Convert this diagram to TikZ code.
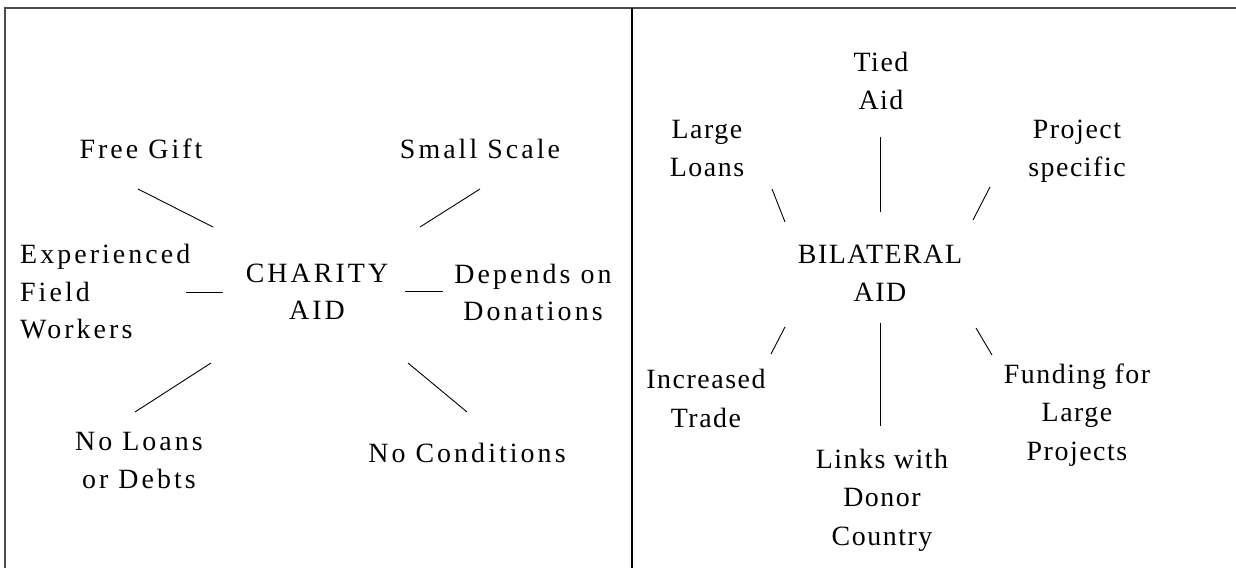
\documentclass[tikz,border=0pt]{standalone}
\usepackage{fontspec}
\setmainfont{Liberation Serif}
\newfontfamily\lfont[LetterSpace=11]{Liberation Serif}
\newfontfamily\rfont[LetterSpace=5.5]{Liberation Serif}
\begin{document}
\begin{tikzpicture}[x=1bp,y=-1bp,
  ltxt/.style={anchor=base,align=center,inner sep=0pt,font={\lfont\fontsize{28}{38}\selectfont}},
  rtxt/.style={anchor=base,align=center,inner sep=0pt,font={\rfont\fontsize{28}{38.5}\selectfont}},
  conn/.style={draw=black,line width=0.9bp},
  frame/.style={draw=black!70,line width=2bp}]
\useasboundingbox (0,0) rectangle (1236,568);
% frame
\coordinate (tl) at (5,8);
\coordinate (tr) at (1236,8);
\coordinate (bl) at (5,568);
\coordinate (dt) at (632,8);
\coordinate (db) at (632,568);
\draw[frame] (bl) -- (tl) -- (tr);
\draw[draw=black,line width=1.5bp] (dt) -- (db);
% left texts (anchor = baseline of last line)
\node[ltxt] (free) at (141,159) {Free Gift};
\node[ltxt] (small) at (480,159) {Small Scale};
\node[ltxt,anchor=base west,align=left] (exp) at (20,339) {Experienced\\Field\\Workers};
\node[ltxt] (charity) at (317,320) {CHARITY\\AID};
\node[ltxt] (dep) at (533,321) {Depends on\\Donations};
\node[ltxt] (noloans) at (139,488) {No Loans\\or Debts};
\node[ltxt] (nocond) at (467,462) {No Conditions};
% left connectors
\coordinate (a1) at (138,189); \coordinate (a2) at (213,227);
\coordinate (b1) at (480,189); \coordinate (b2) at (420,227);
\coordinate (c1) at (186,292); \coordinate (c2) at (223,292);
\coordinate (d1) at (405,291); \coordinate (d2) at (443,291);
\coordinate (e1) at (211,363); \coordinate (e2) at (135,412);
\coordinate (f1) at (408,363); \coordinate (f2) at (467,412);
\draw[conn] (a1) -- (a2);
\draw[conn] (b1) -- (b2);
\draw[conn] (c1) -- (c2);
\draw[conn] (d1) -- (d2);
\draw[conn] (e1) -- (e2);
\draw[conn] (f1) -- (f2);
% right texts (anchor = baseline of last line)
\node[rtxt] (tied) at (881,110) {Tied\\Aid};
\node[rtxt] (large) at (707,177) {Large\\Loans};
\node[rtxt] (proj) at (1077,177) {Project\\specific};
\node[rtxt] (bil) at (880,302) {BILATERAL\\AID};
\node[rtxt] (inc) at (706,427) {Increased\\Trade};
\node[rtxt] (links) at (882,545) {Links with\\Donor\\Country};
\node[rtxt] (fund) at (1077,460) {Funding for\\Large\\Projects};
% right connectors
\coordinate (g1) at (880,137); \coordinate (g2) at (880,212);
\coordinate (h1) at (772,189); \coordinate (h2) at (785,222);
\coordinate (i1) at (990,187); \coordinate (i2) at (973,220);
\coordinate (j1) at (785,327); \coordinate (j2) at (771,354);
\coordinate (k1) at (880,323); \coordinate (k2) at (880,426);
\coordinate (l1) at (976,328); \coordinate (l2) at (992,355);
\draw[conn] (g1) -- (g2);
\draw[conn] (h1) -- (h2);
\draw[conn] (i1) -- (i2);
\draw[conn] (j1) -- (j2);
\draw[conn] (k1) -- (k2);
\draw[conn] (l1) -- (l2);
\end{tikzpicture}
\end{document}
